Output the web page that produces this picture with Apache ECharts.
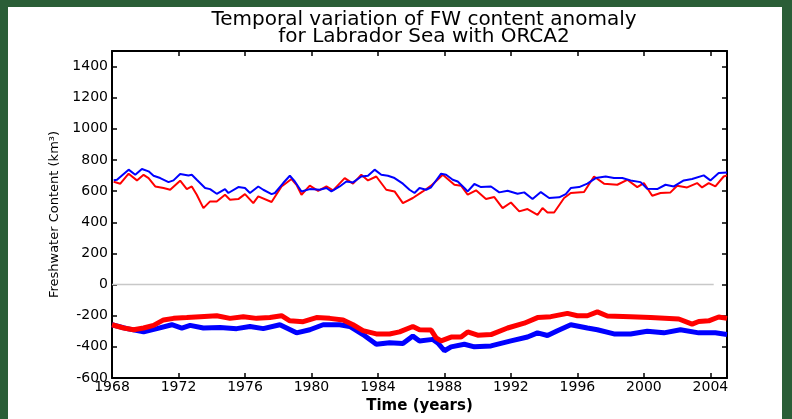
<!DOCTYPE html>
<html>
<head>
<meta charset="utf-8">
<script src="https://cdn.jsdelivr.net/npm/echarts@6/dist/echarts.min.js"></script>
<style>
  html, body { margin: 0; padding: 0; width: 792px; height: 419px; overflow: hidden;
    background: #2a5e37; }
  #panel { position: absolute; left: 8px; top: 7px; width: 774px; height: 412px; background: #ffffff; }
  #chart { position: absolute; left: 0; top: 0; width: 792px; height: 419px; }
</style>
</head>
<body>
<div id="panel"></div>
<div id="chart"></div>
<script>
// ---- Data ----
const titleText = 'Temporal variation of FW content anomaly\nfor Labrador Sea with ORCA2';
const xAxisName = 'Time (years)';
const yAxisName = 'Freshwater Content (km³)';
const xTickStart = 1968, xTickStep = 4, xEnd = 2005;
const yTickStart = -600, yTickStep = 200, yEnd = 1500;

const blueUpperYears = [1968.1,1968.3,1969.0,1969.4,1969.8,1970.2,1970.5,1970.9,1971.4,1971.7,1972.1,1972.6,1972.8,1973.1,1973.6,1973.9,1974.3,1974.8,1975.0,1975.6,1976.0,1976.3,1976.8,1977.1,1977.6,1977.8,1978.3,1978.7,1979.0,1979.4,1979.9,1980.5,1980.9,1981.2,1981.7,1982.1,1982.5,1983.0,1983.4,1983.8,1984.2,1984.6,1985.0,1985.5,1985.9,1986.2,1986.5,1986.9,1987.2,1987.8,1988.1,1988.5,1988.8,1989.2,1989.4,1989.8,1990.2,1990.8,1991.3,1991.8,1992.4,1992.8,1993.3,1993.8,1994.3,1994.9,1995.3,1995.6,1996.1,1996.6,1997.1,1997.7,1998.2,1998.7,1999.2,1999.8,2000.2,2000.8,2001.3,2001.8,2002.4,2002.9,2003.6,2004.0,2004.5,2005.0];
const blueUpperValues = [670,673,738,705,742,727,699,684,658,669,710,701,705,673,620,613,583,613,588,626,620,588,630,609,581,588,652,699,662,598,613,609,620,598,630,662,656,694,699,738,705,699,684,648,609,588,620,609,625,712,705,673,662,620,598,646,626,630,592,602,583,592,549,594,556,560,581,620,626,648,684,694,684,684,669,658,615,613,641,630,669,678,701,669,716,720];

const redUpperYears = [1968.1,1968.5,1969.0,1969.5,1969.9,1970.2,1970.6,1971.1,1971.5,1972.1,1972.5,1972.8,1973.1,1973.5,1973.9,1974.3,1974.8,1975.1,1975.6,1976.0,1976.5,1976.8,1977.6,1978.2,1978.8,1979.1,1979.4,1979.9,1980.4,1980.9,1981.3,1982.0,1982.5,1983.0,1983.4,1983.9,1984.5,1985.0,1985.5,1986.1,1986.7,1987.2,1987.9,1988.6,1989.0,1989.4,1989.9,1990.5,1991.0,1991.5,1992.0,1992.5,1993.0,1993.6,1993.9,1994.2,1994.6,1995.2,1995.6,1996.4,1997.0,1997.6,1998.4,1999.0,1999.6,2000.0,2000.5,2001.0,2001.6,2002.0,2002.6,2003.2,2003.5,2003.9,2004.3,2004.8,2005.0];
const redUpperValues = [660,648,712,669,705,684,630,620,609,667,613,630,577,491,534,534,577,545,549,581,523,566,530,630,678,641,577,635,602,630,605,684,648,705,669,694,609,598,523,556,598,635,705,641,635,577,605,549,562,491,527,470,485,448,491,463,463,556,588,594,694,648,641,673,626,652,570,588,592,635,624,652,624,652,630,694,701];

const blueLowerYears = [1968.0,1968.9,1969.9,1970.7,1971.6,1972.2,1972.7,1973.5,1974.5,1975.5,1976.3,1977.1,1978.1,1979.1,1979.9,1980.7,1981.7,1982.3,1983.1,1983.9,1984.7,1985.5,1986.1,1986.5,1987.3,1987.6,1988.0,1988.4,1989.2,1989.8,1990.8,1992.0,1993.0,1993.6,1994.2,1994.8,1995.6,1996.6,1997.2,1998.2,1999.2,2000.2,2001.2,2002.2,2003.3,2004.3,2005.0];
const blueLowerValues = [-258,-283,-304,-283,-258,-279,-262,-279,-275,-283,-269,-283,-258,-310,-290,-258,-258,-269,-321,-383,-373,-379,-331,-362,-352,-375,-425,-400,-383,-400,-394,-362,-337,-310,-327,-296,-258,-279,-290,-317,-317,-300,-310,-290,-310,-310,-320];

const redLowerYears = [1968.0,1968.7,1969.3,1969.9,1970.5,1971.1,1971.7,1972.5,1973.3,1974.3,1975.1,1975.9,1976.7,1977.5,1978.2,1978.7,1979.5,1980.3,1981.1,1981.9,1982.5,1983.1,1983.9,1984.7,1985.3,1986.1,1986.5,1987.2,1987.5,1987.8,1988.4,1989.0,1989.4,1990.0,1990.8,1991.8,1992.8,1993.6,1994.4,1995.4,1996.0,1996.6,1997.2,1997.8,1999.2,2000.4,2002.1,2002.9,2003.3,2003.9,2004.5,2005.0];
const redLowerValues = [-258,-279,-290,-279,-262,-227,-217,-212,-206,-200,-217,-206,-217,-212,-200,-233,-238,-212,-217,-227,-258,-296,-317,-317,-304,-269,-290,-292,-342,-362,-337,-337,-304,-325,-321,-279,-248,-212,-206,-185,-200,-200,-175,-202,-206,-212,-221,-254,-237,-233,-208,-217];

const zeroLineYears = [1968, 2004.2];
const zeroLineValues = [0, 0];

// ---- Chart ----
function pairs(xs, ys) { return xs.map((x, i) => [x, ys[i]]); }

const FONT = 'DejaVu Sans';
const chart = echarts.init(document.getElementById('chart'), null, { renderer: 'canvas' });

const axisLineStyle = { color: '#000', width: 2 };
const tickStyle = { color: '#000', width: 1.5 };

chart.setOption({
  animation: false,
  backgroundColor: 'transparent',
  title: {
    text: titleText,
    left: 419,
    top: 6,
    textAlign: 'center',
    textStyle: { fontFamily: FONT, fontSize: 20, fontWeight: 'normal', color: '#000', lineHeight: 17 }
  },
  grid: { left: 112, right: 65, top: 51, bottom: 41, containLabel: false },
  xAxis: [
    {
      type: 'value', position: 'bottom', min: xTickStart, max: xEnd, interval: xTickStep,
      name: xAxisName, nameLocation: 'middle', nameGap: 18,
      nameTextStyle: { fontFamily: FONT, fontSize: 15, fontWeight: 'bold', color: '#000' },
      axisLine: { show: true, onZero: false, lineStyle: axisLineStyle },
      axisTick: { show: true, inside: true, length: 5, lineStyle: tickStyle },
      axisLabel: { show: true, margin: 2, fontFamily: FONT, fontSize: 14, color: '#000',
                   showMaxLabel: false, formatter: v => String(v) },
      splitLine: { show: false }
    },
    {
      type: 'value', position: 'top', min: xTickStart, max: xEnd, interval: xTickStep,
      axisLine: { show: true, onZero: false, lineStyle: axisLineStyle },
      axisTick: { show: true, inside: true, length: 5, lineStyle: tickStyle },
      axisLabel: { show: false },
      splitLine: { show: false }
    }
  ],
  yAxis: [
    {
      type: 'value', position: 'left', min: yTickStart, max: yEnd, interval: yTickStep,
      name: yAxisName, nameLocation: 'middle', nameGap: 50, nameRotate: 90,
      nameTextStyle: { fontFamily: FONT, fontSize: 13, color: '#000' },
      axisLine: { show: true, onZero: false, lineStyle: axisLineStyle },
      axisTick: { show: true, inside: true, length: 5, lineStyle: tickStyle },
      axisLabel: { show: true, margin: 4, fontFamily: FONT, fontSize: 14, color: '#000',
                   showMaxLabel: false, formatter: v => String(v) },
      splitLine: { show: false }
    },
    {
      type: 'value', position: 'right', min: yTickStart, max: yEnd, interval: yTickStep,
      axisLine: { show: true, onZero: false, lineStyle: axisLineStyle },
      axisTick: { show: true, inside: true, length: 5, lineStyle: tickStyle },
      axisLabel: { show: false },
      splitLine: { show: false }
    }
  ],
  series: [
    { type: 'line', name: 'zero', data: pairs(zeroLineYears, zeroLineValues), symbol: 'none',
      lineStyle: { color: '#c8c8c8', width: 1.5 }, silent: true },
    { type: 'line', name: 'blueLower', data: pairs(blueLowerYears, blueLowerValues), symbol: 'none',
      lineStyle: { color: '#0000ff', width: 5 } },
    { type: 'line', name: 'redLower', data: pairs(redLowerYears, redLowerValues), symbol: 'none',
      lineStyle: { color: '#ff0000', width: 5 } },
    { type: 'line', name: 'redUpper', data: pairs(redUpperYears, redUpperValues), symbol: 'none',
      lineStyle: { color: '#ff0000', width: 2 } },
    { type: 'line', name: 'blueUpper', data: pairs(blueUpperYears, blueUpperValues), symbol: 'none',
      lineStyle: { color: '#0000ff', width: 2 } }
  ]
});
</script>
</body>
</html>
